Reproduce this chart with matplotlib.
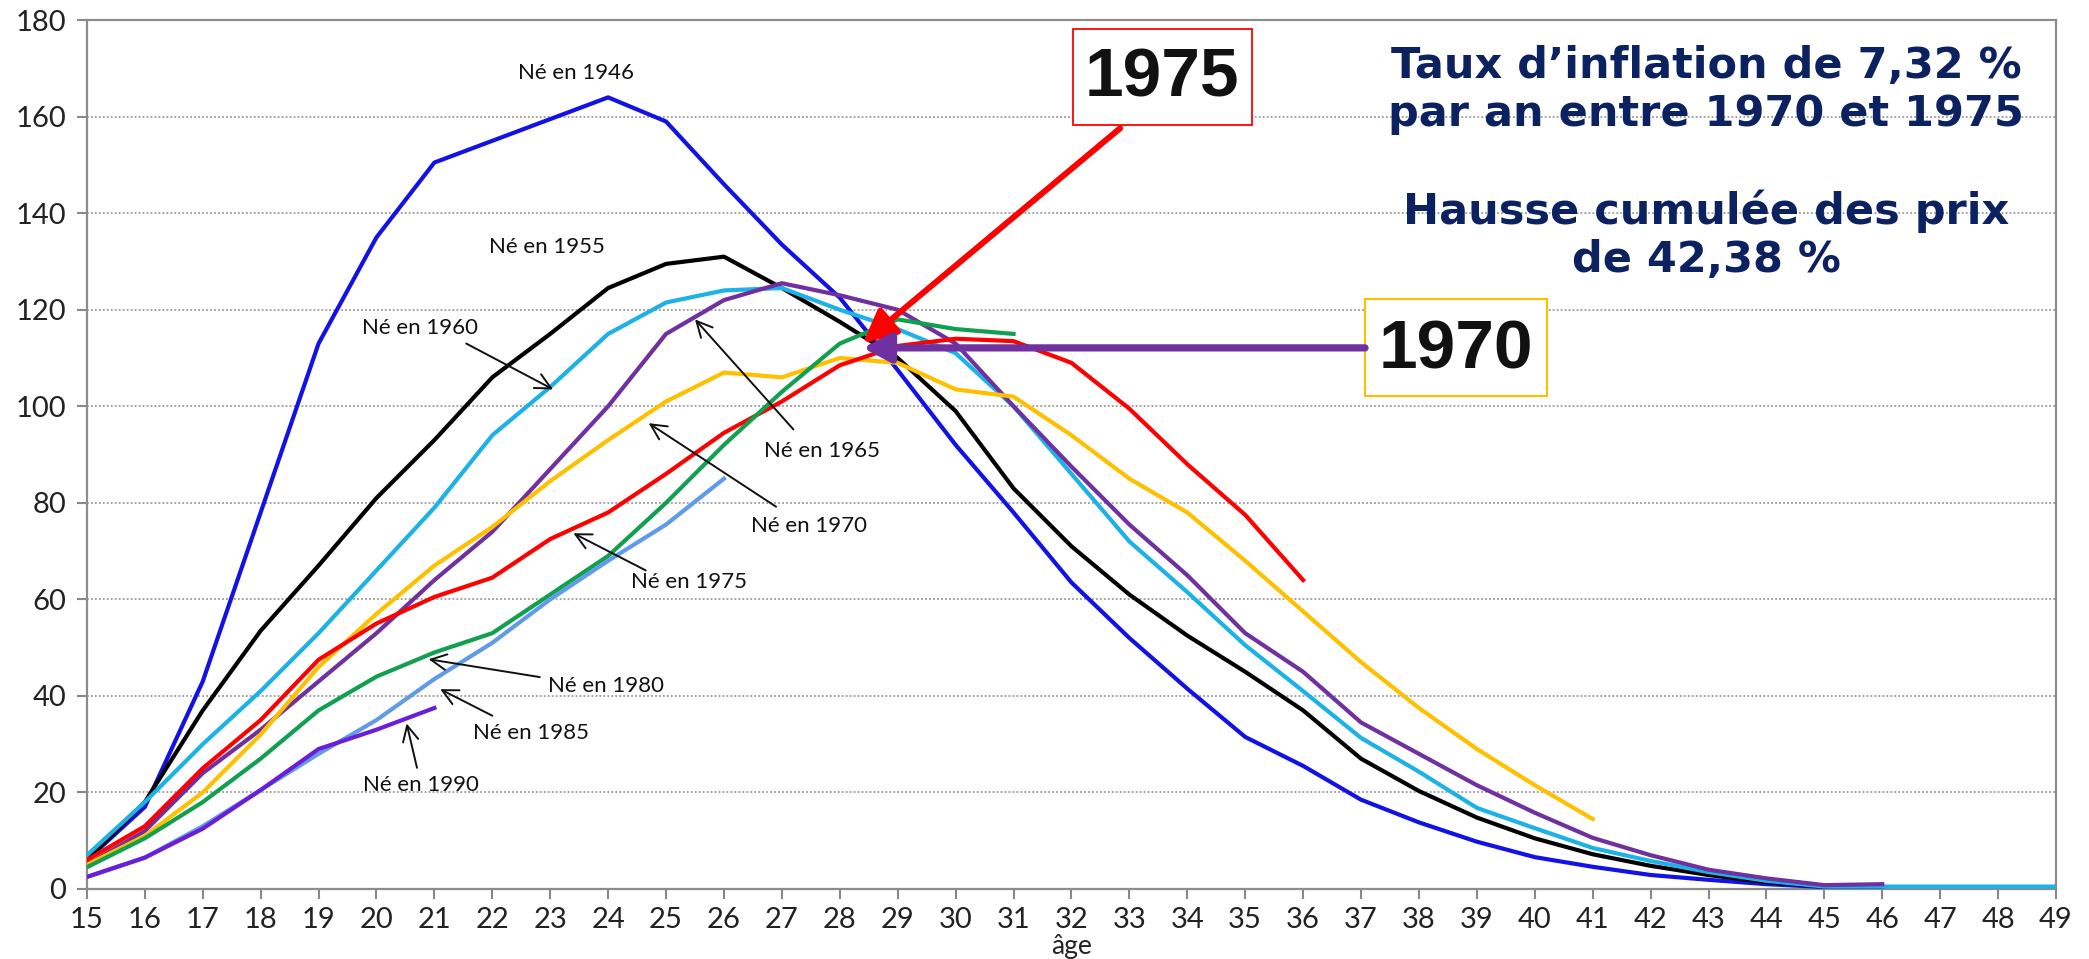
import matplotlib
matplotlib.use("Agg")
import matplotlib.pyplot as plt
from matplotlib.patches import Rectangle

# ---------------- data ----------------
ages = list(range(15, 50))

ne_1946 = [6, 17, 43, 78, 113, 135, 150.5, 155, 159.5, 164, 159, 146, 133.5, 122.5, 107.5, 92, 78, 63.5,
           52, 41.5, 31.5, 25.5, 18.5, 13.8, 9.8, 6.6, 4.6, 2.9, 1.9, 1.0, 0.4, 0.4]
ne_1955 = [6, 18, 37, 53.5, 67, 81, 93, 106, 115, 124.5, 129.5, 131, 124.5, 117.5, 110, 99, 83, 71,
           61, 52.5, 45, 37, 27, 20.3, 14.8, 10.5, 7.2, 4.8, 2.9, 1.4, 0.5]
ne_1960 = [7, 18, 30, 41, 53, 66, 79, 94, 104, 115, 121.5, 124, 124.5, 120, 116, 111, 100, 86,
           72, 61.5, 50.5, 41, 31.3, 24.3, 16.8, 12.6, 8.5, 5.8, 3.5, 1.7, 0.5, 0.5, 0.5, 0.5, 0.5]
ne_1965 = [5, 12, 24, 33, 43, 53, 64, 74, 87, 100, 115, 122, 125.5, 123, 120, 113, 100, 87.5,
           75.5, 65, 53, 45, 34.5, 28, 21.5, 15.8, 10.6, 7, 4, 2.2, 0.8, 1.0]
ne_1970 = [5, 11, 20, 32, 46, 57, 67, 75, 84.5, 93, 101, 107, 106, 110, 109, 103.5, 102, 94,
           85, 78, 68, 57.5, 47, 37.5, 29, 21.5, 14.5]
ne_1975 = [6, 13, 25, 35, 47.5, 55, 60.5, 64.5, 72.5, 78, 86, 94.5, 101, 108.5, 112.5, 114, 113.5, 109,
           99.5, 88, 77.5, 64]
ne_1980 = [4.5, 10.5, 18, 27, 37, 44, 49, 53, 61, 69, 80, 92, 103, 113, 118, 116, 115]
ne_1985 = [2.5, 6.5, 13, 20.5, 28, 35, 43.5, 51, 60, 68, 75.5, 85]
ne_1990 = [2.5, 6.5, 12.5, 20.5, 29, 33, 37.5]

series_names = ["Né en 1946", "Né en 1955", "Né en 1960", "Né en 1965", "Né en 1970",
                "Né en 1975", "Né en 1980", "Né en 1985", "Né en 1990"]
series_values = [ne_1946, ne_1955, ne_1960, ne_1965, ne_1970, ne_1975, ne_1980, ne_1985, ne_1990]
series_colors = ["#1212E6", "#000000", "#1CB2E6", "#7030A0", "#FFC000",
                 "#FF0000", "#10A050", "#5F9BEA", "#6A1ED8"]

y_ticks = list(range(0, 181, 20))
x_ticks = list(range(15, 50))

# ---------------- figure ----------------
fig = plt.figure(figsize=(20.89, 9.59), dpi=100)
ax = fig.add_axes([0.0416, 0.073, 0.9426, 0.906])

label_font = "Lato"

for vals, col in zip(series_values, series_colors):
    ax.plot(ages[:len(vals)], vals, color=col, lw=3.0, solid_joinstyle="round", zorder=3)

ax.set_xlim(15, 49)
ax.set_ylim(0, 180)
ax.set_xticks(x_ticks)
ax.set_yticks(y_ticks)
ax.set_xticklabels([str(v) for v in x_ticks], fontfamily=label_font, fontsize=21, color="#222222")
ax.set_yticklabels([str(v) for v in y_ticks], fontfamily=label_font, fontsize=21, color="#222222")
ax.tick_params(axis="both", length=7, width=1.5, color="#888888", direction="out")
ax.tick_params(axis="x", pad=6)
ax.tick_params(axis="y", pad=8)
for sp in ax.spines.values():
    sp.set_color("#8c8c8c")
    sp.set_linewidth(1.6)
ax.grid(axis="y", linestyle=(0, (1, 1.2)), color="#9a9a9a", lw=1.3, zorder=1)
ax.set_axisbelow(True)
ax.set_xlabel("âge", fontfamily=label_font, fontsize=19, labelpad=1, color="#222222")

# ---------------- cohort labels ----------------
# (text position, arrow tail, arrow head) in data coords
label_pos = {
    "Né en 1946": ((23.44, 169), None, None),
    "Né en 1955": ((22.94, 133), None, None),
    "Né en 1960": ((20.75, 116.2), (21.55, 113.0), (23.05, 103.5)),
    "Né en 1965": ((27.7, 90.8), (27.2, 95.2), (25.5, 118.0)),
    "Né en 1970": ((27.47, 75.1), (26.9, 79.2), (24.7, 96.5)),
    "Né en 1975": ((25.4, 63.5), (24.65, 66.0), (23.4, 73.7)),
    "Né en 1980": ((23.97, 42.0), (22.82, 43.9), (20.9, 47.6)),
    "Né en 1985": ((22.66, 32.3), (22.0, 35.9), (21.1, 41.4)),
    "Né en 1990": ((20.77, 21.5), (20.7, 25.1), (20.52, 34.3)),
}
for name in series_names:
    (tx, ty), tail, head = label_pos[name]
    ax.text(tx, ty, name, ha="center", va="center", fontfamily=label_font, fontsize=16,
            color="#111111", zorder=6)
    if tail is not None:
        ax.annotate("", xy=head, xytext=tail,
                    arrowprops=dict(arrowstyle="->", color="#111111", lw=1.4,
                                    mutation_scale=28, shrinkA=0, shrinkB=0), zorder=6)

# ---------------- big boxes and arrows ----------------
narrow = ["Liberation Sans Narrow", "Liberation Sans", "DejaVu Sans"]

ax.add_patch(Rectangle((32.03, 158.2), 3.09, 19.9, facecolor="white", edgecolor="#FF0000",
                       lw=1.3, zorder=7))
ax.text(33.57, 168.0, "1975", ha="center", va="center", fontsize=50, fontweight="bold",
        family=narrow, color="#111111", zorder=8)
ax.annotate("", xy=(28.4, 113.1), xytext=(32.84, 157.6),
            arrowprops=dict(arrowstyle="-|>,head_length=0.9,head_width=0.45", color="#FF0000",
                            lw=4.3, mutation_scale=22, shrinkA=0, shrinkB=0), zorder=9)

ax.add_patch(Rectangle((37.07, 102.1), 3.14, 20.1, facecolor="white", edgecolor="#FFC000",
                       lw=1.5, zorder=7))
ax.text(38.64, 111.6, "1970", ha="center", va="center", fontsize=50, fontweight="bold",
        family=narrow, color="#111111", zorder=8)
ax.annotate("", xy=(28.4, 112.1), xytext=(37.07, 112.1),
            arrowprops=dict(arrowstyle="-|>,head_length=0.75,head_width=0.4", color="#7030A0",
                            lw=5.2, mutation_scale=22, shrinkA=0, shrinkB=0), zorder=9)

# ---------------- explanatory text ----------------
navy = "#0B2160"
txt_font = ["DejaVu Sans"]
ax.text(42.96, 158.0, "Taux d’inflation de 7,32 %\npar an entre 1970 et 1975", ha="center",
        va="baseline", fontsize=31, fontweight="bold", family=txt_font, color=navy,
        linespacing=1.2, zorder=8)
ax.text(42.96, 127.8, "Hausse cumulée des prix\nde 42,38 %", ha="center",
        va="baseline", fontsize=31, fontweight="bold", family=txt_font, color=navy,
        linespacing=1.2, zorder=8)

fig.savefig("out.png", dpi=100, facecolor="white")
